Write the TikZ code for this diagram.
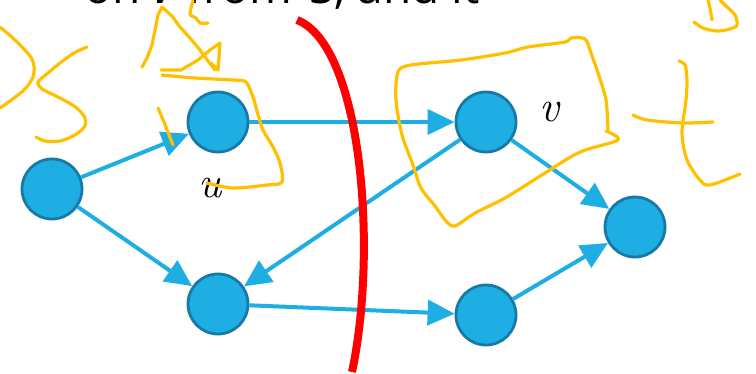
\documentclass[tikz,border=0pt]{standalone}
\usepackage{fontspec}
\newfontfamily\topfont{Open Sans}
\usetikzlibrary{arrows.meta}
\definecolor{nodeblue}{RGB}{31,174,227}
\definecolor{nodeedge}{RGB}{22,122,166}
\definecolor{scrib}{RGB}{255,192,0}
\definecolor{cutred}{RGB}{255,0,0}
\tikzset{
  vert/.style={circle,fill=nodeblue,draw=nodeedge,line width=2.8pt,minimum size=60pt,inner sep=0pt},
  edge/.style={draw=nodeblue,line width=4pt,-{Triangle[length=27pt,width=25pt]}},
  ink/.style={draw=scrib,line width=3.2pt,line cap=round,line join=round},
  lab/.style={inner sep=0pt,font=\fontsize{44}{44}\selectfont\itshape},
  toptxt/.style={inner sep=0pt,font=\topfont\fontsize{46}{46}\selectfont}
}
\begin{document}
\begin{tikzpicture}[x=1pt,y={(0pt,-1pt)}]
\useasboundingbox (0,0) rectangle (756,373);
\clip (0,0) rectangle (756,373);
% cut-off heading
\node[toptxt,anchor=base east] (h1) at (292,3) {on \textit{v} from};
\node[toptxt,anchor=base west] (h2) at (309,3) {S, and it};
% vertices
\node[vert] (a) at (52,189) {};
\node[vert] (u) at (218,122) {};
\node[vert] (v) at (486,122) {};
\node[vert] (b) at (218,304) {};
\node[vert] (c) at (486,315) {};
\node[vert] (t) at (635,227) {};
% edges
\draw[edge] (a) -- (u);
\draw[edge] (a) -- (b);
\draw[edge] (u) -- (v);
\draw[edge] (v) -- (b);
\draw[edge] (v) -- (t);
\draw[edge] (b) -- (c);
\draw[edge] (c) -- (t);
% labels
\node[lab] (lu) at (210,188) {u};
\node[lab] (lv) at (549,112) {v};
% cut
\draw[cutred,line width=8pt] (297,20) .. controls (362,45) and (378,250) .. (352,372);
% scribbles
\draw[ink] plot[smooth] coordinates {(0,27) (15,40) (30,56) (34,66) (33,77) (25,89) (10,101) (0,108)};
\draw[ink] plot[smooth] coordinates {(87,47) (74,53) (60,63) (48,73) (38,82) (42,89) (56,96) (74,106) (84,116) (85,126) (75,135) (60,141) (45,141) (36,137)};
\draw[ink] plot coordinates {(142,67) (147,58) (152,45) (155,30) (158,15) (162,7) (172,16) (180,27) (190,38) (200,50) (208,61) (215,70)};
\draw[ink] plot coordinates {(161,70) (181,70) (198,60) (210,50) (220,43) (218,70) (211,63)};
\draw[ink] plot[smooth] coordinates {(193,1) (190,14) (196,18) (200,23) (208,23)};
\draw[ink] plot[smooth] coordinates {(162,75) (195,78) (233,80) (246,82) (253,97) (257,111) (263,130) (273,147) (280,163) (282,182) (267,185) (233,188) (207,183)};
\draw[ink] (158,108) -- (164,122) -- (173,145);
\draw[ink] plot[smooth] coordinates {(606,131) (618,140) (580,152) (545,173) (505,198) (475,213) (455,226) (446,221) (435,206) (421,188) (413,165) (402,135) (396,100) (398,72) (411,65) (461,60) (505,53) (528,47) (565,42) (571,38) (585,39) (591,53) (598,73) (606,100) (608,130)};
\draw[ink] plot[smooth] coordinates {(679,61) (685,65) (687,80) (686,100) (682,133) (687,160) (700,180) (710,185) (740,174)};
\draw[ink] plot[smooth] coordinates {(633,115) (647,120) (683,123) (713,122)};
\draw[ink] plot[smooth] coordinates {(694,22) (703,28) (717,31) (730,29) (737,25) (735,15) (727,7) (720,0)};
\draw[ink] (712,20) -- (710,8) -- (708,0);
\end{tikzpicture}
\end{document}
